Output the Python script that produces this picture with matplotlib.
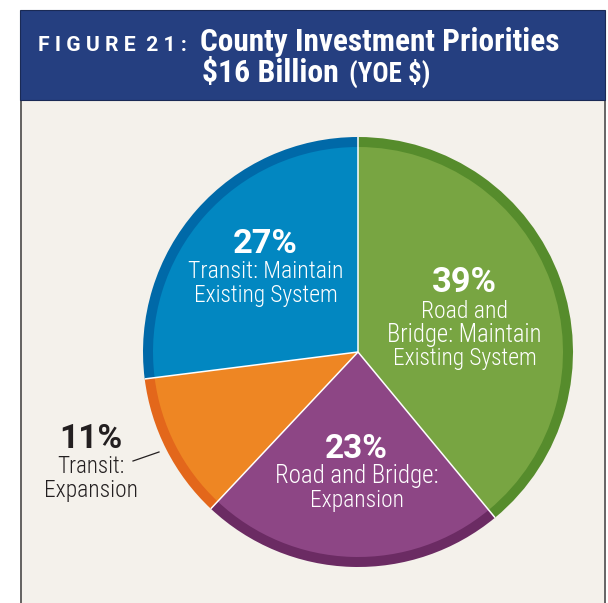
import matplotlib
matplotlib.use("Agg")
import numpy as np
import matplotlib.pyplot as plt
from matplotlib.patches import Rectangle

# ---- data ----
categories = ["Road and Bridge: Maintain Existing System",
              "Road and Bridge: Expansion",
              "Transit: Expansion",
              "Transit: Maintain Existing System"]
shares = [39, 23, 11, 27]
fill_colors = ["#78A542", "#8D4685", "#EE8623", "#0287C1"]
ring_colors = ["#568C2C", "#6B2B63", "#E3671B", "#0069A8"]
label_lines = [["Road and", "Bridge: Maintain", "Existing System"],
               ["Road and Bridge:", "Expansion"],
               ["Transit:", "Expansion"],
               ["Transit: Maintain", "Existing System"]]
title_prefix = "F I G U R E  2 1 :"
title_main = "County Investment Priorities"
subtitle_main = "$16 Billion"
subtitle_small = "(YOE $)"

W, H = 608, 603
fig = plt.figure(figsize=(W / 100, H / 100), dpi=100)
fig.patch.set_facecolor("white")

FONT = ["Roboto Condensed", "Roboto", "DejaVu Sans"]
PFONT = ["Roboto", "DejaVu Sans"]

# background axes in pixel coords (y downward)
bg = fig.add_axes([0, 0, 1, 1], zorder=0)
bg.set_xlim(0, W)
bg.set_ylim(H, 0)
bg.axis("off")
bg.add_patch(Rectangle((20, 100), 584, 510, facecolor="#F4F1EB", edgecolor="none", zorder=0))
bg.plot([20.5, 20.5], [100, H], color="#4a4a4a", lw=1.2, zorder=1)
bg.plot([604.5, 604.5], [100, H], color="#4a4a4a", lw=1.2, zorder=1)
bg.add_patch(Rectangle((20, 10), 584.5, 90, facecolor="#253F80", edgecolor="#1a2a55", lw=0.8, zorder=2))

# pie
cx, cy, R = 358, 352, 215
ax = fig.add_axes([(cx - R) / W, (H - cy - R) / H, 2 * R / W, 2 * R / H], zorder=1)
ax.pie(shares, colors=ring_colors, startangle=90, counterclock=False, radius=1,
       wedgeprops=dict(edgecolor="none", linewidth=0))
ax.pie(shares, colors=fill_colors, startangle=90, counterclock=False, radius=1 - 10 / R,
       wedgeprops=dict(edgecolor="none", linewidth=0))
cum = np.cumsum([0] + shares)
for c in cum[:-1]:
    th = np.deg2rad(90 - 360 * c / sum(shares))
    ax.plot([0, np.cos(th)], [0, np.sin(th)], color="white", lw=1.1, solid_capstyle="butt")
ax.set_xlim(-1.0, 1.0)
ax.set_ylim(-1.0, 1.0)
ax.axis("off")

# text overlay
tx = fig.add_axes([0, 0, 1, 1], zorder=3)
tx.set_xlim(0, W)
tx.set_ylim(H, 0)
tx.axis("off")
tx.patch.set_alpha(0)

fig.canvas.draw()
renderer = fig.canvas.get_renderer()


def fit(x, y, s, width, ha="left", color="white", weight="normal", va="baseline", family=FONT):
    t = tx.text(x, y, s, ha=ha, va=va, color=color, fontsize=10,
                fontweight=weight, family=family)
    w = t.get_window_extent(renderer=renderer).width
    t.set_fontsize(10 * width / w)
    return t

# title
fit(38, 51, title_prefix, 149, weight="bold", family=PFONT)
fit(200, 51, title_main, 358, weight="bold")
fit(202, 82, subtitle_main, 137, weight="bold")
fit(349, 82, subtitle_small, 81, weight="bold")

# slice labels: (center x, pct baseline, pct width), then (baseline, width) per line
label_color = ["white", "white", "#231F20", "white"]
pct_weight = ["semibold", "semibold", "bold", "semibold"]
pct_spec = [(464.5, 292, 65), (356.5, 458, 63), (90.5, 448, 57), (265.5, 253, 65)]
line_spec = [[(318, 87), (342, 154), (365, 145)],
             [(483, 163), (507, 94)],
             [(473, 67), (497, 94)],
             [(278, 154), (302, 145)]]
pct_texts = []
for i in range(len(shares)):
    x, yb, pw = pct_spec[i]
    t = fit(x, yb, f"{shares[i]}%", pw, ha="center", color=label_color[i],
            weight=pct_weight[i], family=PFONT)
    pct_texts.append(t)
    for line, (yl, wl) in zip(label_lines[i], line_spec[i]):
        fit(x, yl, line, wl, ha="center", color=label_color[i], weight="light")
# the narrow "11%" uses the same type size as the other percentages
pct_texts[2].set_fontsize(pct_texts[1].get_fontsize())

# leader line for the small slice
tx.plot([133, 159], [461, 452], color="#231F20", lw=0.9)

fig.savefig("out.png", dpi=100, facecolor="white")
